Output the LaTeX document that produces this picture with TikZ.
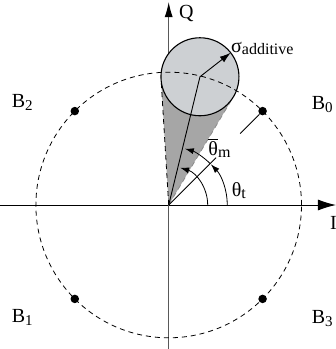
\documentclass[tikz,border=0pt]{standalone}
\usepackage{fontspec}
\setmainfont{Liberation Serif}
\usetikzlibrary{arrows.meta}
\definecolor{conegray}{HTML}{A6A6A6}
\definecolor{circgray}{HTML}{CDD0D3}
\begin{document}
\begin{tikzpicture}[x=1pt,y=1pt,
  lbl/.style={font=\fontsize{20}{22}\selectfont, inner sep=0pt, anchor=base west},
  dashline/.style={dash pattern=on 5pt off 4pt, line width=0.8pt},
  dotnode/.style={circle, fill=black, inner sep=0pt, minimum size=8.5pt},
  arctip/.style={line width=0.8pt, -{Latex[length=9pt,width=6pt]}},
]
\newcommand{\subsz}[2]{\raisebox{#1}{\fontsize{15}{15}\selectfont #2}}
\useasboundingbox (-168.7,-144) rectangle (167.3,205);
% axes
\coordinate (O) at (0,0);
\coordinate (Ileft) at (-168.7,0);
\coordinate (Iright) at (167.3,0);
\coordinate (Qbot) at (0,-144);
\coordinate (Qtop) at (0,203);
\draw[line width=1pt, -{Latex[length=18pt,width=11pt]}] (Ileft) -- (Iright);
\draw[line width=1pt, black!65, -{Latex[length=15pt,width=8pt,color=black]}] (Qbot) -- (Qtop);
% cone
\coordinate (C) at (76.3:132);
\coordinate (T1) at (93.48:126.1);
\coordinate (T2) at (59.12:126.1);
\fill[conegray] (O) -- (T1) -- (C) -- (T2) -- cycle;
\draw[dashline] (O) -- (T1);
\draw[dashline, black!45] (O) -- (T2);
\node[circle, minimum size=78pt, inner sep=0pt, outer sep=0pt, fill=circgray, draw, line width=1.1pt] (circ) at (C) {};
% dashed constellation circle
\draw[dashline] (O) circle (132.8);
\draw[line width=0.9pt] (O) -- (C);
\draw[line width=0.9pt, -{Latex[length=11pt,width=7pt]}] (C) -- (circ.38);
% constellation points
\node[dotnode] (b0) at (45:132.8) {};
\node[dotnode] (b2) at (135:132.8) {};
\node[dotnode] (b1) at (225:132.8) {};
\node[dotnode] (b3) at (315:132.8) {};
% line to B0 with gap for label
\coordinate (G1) at (45:67);
\coordinate (G2) at (45:101);
\draw[line width=0.8pt] (O) -- (G1);
\draw[line width=0.8pt] (G2) -- (b0);
% arcs
\draw[arctip] (39,0) arc (0:73:39);
\draw[arctip] (58.6,0) arc (0:44:58.6);
\draw[arctip] (45:58.6) arc (45:74:58.6);
% labels
\node[lbl] (lQ) at (10.3,186.5) {Q};
\node[lbl] (lI) at (161.3,-24) {I};
\node[lbl] (lB0) at (143,95.7) {B\subsz{-3pt}{0}};
\node[lbl] (lB2) at (-157,97.7) {B\subsz{-3pt}{2}};
\node[lbl] (lB1) at (-157,-117.7) {B\subsz{-3pt}{1}};
\node[lbl] (lB3) at (143,-118) {B\subsz{-3pt}{3}};
\node[lbl] (lsig) at (62.3,152.3) {σ\raisebox{-1.5pt}{\fontsize{16}{16}\selectfont additive}};
\node[lbl] (lthm) at (39.6,50) {$\overline{\hbox{θ}}$\raisebox{-2pt}{\fontsize{16}{16}\selectfont m}};
\node[lbl] (ltht) at (63,8.3) {θ\raisebox{-1.5pt}{\fontsize{16}{16}\selectfont t}};
\end{tikzpicture}
\end{document}
